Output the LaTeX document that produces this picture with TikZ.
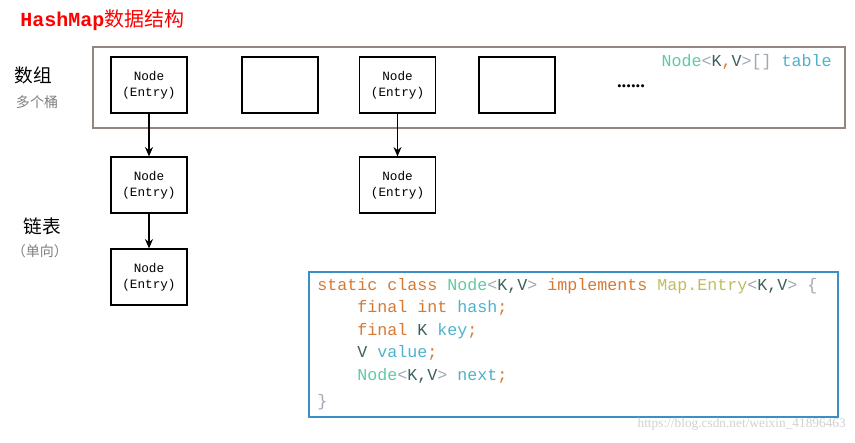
\documentclass[tikz,border=0pt]{standalone}
\usepackage{fontspec}
\setmainfont{Liberation Serif}
\newfontfamily\cjk{Noto Sans CJK SC}
\newfontfamily\cmono{Liberation Mono}
\usetikzlibrary{arrows.meta}
\definecolor{kw}{HTML}{D47A35}
\definecolor{ty}{HTML}{5FCBA5}
\definecolor{gv}{HTML}{3F6060}
\definecolor{pu}{HTML}{A0A8B2}
\definecolor{cl}{HTML}{C2BC5E}
\definecolor{id}{HTML}{4DB2CC}
\definecolor{frame}{HTML}{958482}
\definecolor{codeb}{HTML}{3B8FC7}
\newcommand{\kK}[1]{\textcolor{kw}{#1}}
\newcommand{\kT}[1]{\textcolor{ty}{#1}}
\newcommand{\kG}[1]{\textcolor{gv}{#1}}
\newcommand{\kP}[1]{\textcolor{pu}{#1}}
\newcommand{\kC}[1]{\textcolor{cl}{#1}}
\newcommand{\kI}[1]{\textcolor{id}{#1}}
\begin{document}
\begin{tikzpicture}[x=0.75pt,y=-0.75pt,
  cell/.style={draw,line width=0.9pt,minimum width=57pt,minimum height=42pt,inner sep=0pt,font=\cmono\fontsize{9.5}{12}\selectfont,align=center},
  arr/.style={-{Stealth[length=7pt,width=6pt]},line width=0.9pt},
  code/.style={anchor=west,inner sep=0pt,font=\cmono\fontsize{12.5}{14}\selectfont},
  lab/.style={font=\cjk\fontsize{14}{16}\selectfont},
  sub/.style={font=\cjk\fontsize{10.5}{12}\selectfont,text=gray}]
\useasboundingbox (0,0) rectangle (855,442);
\fill[white] (0,0) rectangle (855,442);
\node[anchor=west,inner sep=0pt,text=red,font=\fontsize{15}{17}\selectfont] (title) at (20,20) {{\cmono\bfseries HashMap}{\cjk 数据结构}};
\node[lab] (sz) at (33,75) {数组};
\node[sub] (tong) at (37,102) {多个桶};
\node[lab] (lb) at (42,226) {链表};
\node[sub] (dx) at (40,251) {（单向）};
\draw[frame,line width=0.8pt] (93,47) rectangle (845,128);
\node[cell] (a1) at (149,85) {Node\\(Entry)};
\node[cell] (a2) at (280,85) {};
\node[cell] (a3) at (397.5,85) {Node\\(Entry)};
\node[cell] (a4) at (517,85) {};
\node[inner sep=0pt,font=\fontsize{14}{14}\selectfont] (dots) at (631,86) {\textbf{......}};
\node[anchor=east,inner sep=0pt,font=\cmono\fontsize{12.5}{14}\selectfont] (tbl) at (832,62) {\kT{Node}\kP{<}\kG{K}\kK{,}\kG{V}\kP{>[]} \kI{table}};
\node[cell] (b1) at (149,185) {Node\\(Entry)};
\node[cell] (b3) at (397.5,185) {Node\\(Entry)};
\node[cell] (c1) at (149,277) {Node\\(Entry)};
\draw[arr] (a1) -- (b1);
\draw[arr] (b1) -- (c1);
\draw[arr] (a3) -- (b3);
\draw[codeb,line width=0.9pt] (309,272) rectangle (838,417);
\node[code] (l1) at (317,286) {\kK{static class} \kT{Node}\kP{<}\kG{K,V}\kP{>} \kK{implements} \kC{Map.Entry}\kP{<}\kG{K,V}\kP{>} \kP{\{}};
\node[code] (l2) at (357,308) {\kK{final int} \kI{hash}\kK{;}};
\node[code] (l3) at (357,331) {\kK{final} \kG{K} \kI{key}\kK{;}};
\node[code] (l4) at (357,353) {\kG{V} \kI{value}\kK{;}};
\node[code] (l5) at (357,376) {\kT{Node}\kP{<}\kG{K,V}\kP{>} \kI{next}\kK{;}};
\node[code] (l6) at (317,402) {\kP{\}}};
\node[anchor=east,inner sep=0pt,text=black!18,font=\fontsize{10}{12}\selectfont] (wm) at (846,424) {https://blog.csdn.net/weixin\_41896463};
\end{tikzpicture}
\end{document}
